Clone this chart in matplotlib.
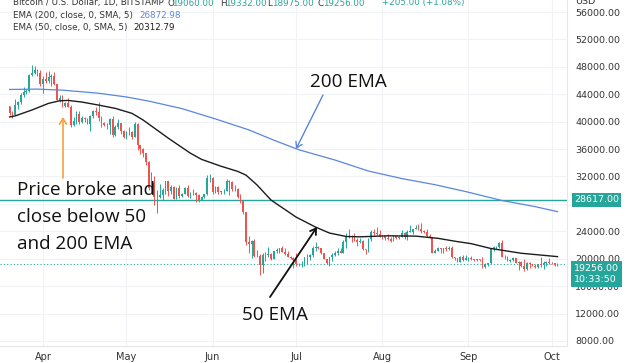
import numpy as np
import pandas as pd
import matplotlib
matplotlib.use("Agg")
import matplotlib.pyplot as plt
import matplotlib.dates as mdates

# ---------------- data (prices in thousands USD) ----------------
start_date = "2022-03-20"
first_open = 42.23
closes = [
    41.26, 41.00, 42.36, 42.89, 43.96, 44.35, 44.50, 46.82, 47.13, 47.47, 47.06, 45.54,
    46.28, 45.87, 46.45, 46.62, 45.56, 43.21, 43.50, 42.29, 42.78, 42.21, 39.52, 40.13, 41.17, 39.94, 40.55,
    40.42, 39.72, 40.83, 41.50, 41.37, 40.53, 39.74, 39.49, 39.47, 40.46, 38.12, 39.24, 39.77, 38.61, 37.71,
    38.47, 38.53, 37.75, 39.70, 36.58, 36.04, 35.50, 34.06, 30.30, 31.02, 28.94, 29.05, 29.28, 30.10, 31.31,
    29.87, 30.43, 28.72, 30.32, 29.20, 29.43, 30.32, 29.10, 29.66, 29.56, 29.27, 28.63, 29.03, 29.47, 31.73, 31.80,
    29.81, 30.45, 29.70, 29.87, 29.92, 31.37, 31.13, 30.21, 30.11, 29.08, 28.36, 26.76, 22.49, 22.21, 22.57,
    20.38, 20.47, 19.02, 20.55, 20.60, 20.71, 19.99, 21.09, 21.23, 21.50, 21.03, 20.74, 20.28, 20.10, 19.79,
    19.27, 19.24, 19.30, 20.23, 20.19, 20.55, 21.64, 21.73, 21.59, 20.86, 19.97, 19.32, 20.21, 20.57, 20.84,
    21.19, 20.78, 22.49, 23.39, 23.23, 23.16, 22.71, 22.47, 22.61, 21.36, 21.24, 22.93, 23.84, 23.80, 23.66, 23.34,
    23.31, 22.98, 22.85, 22.63, 23.29, 22.96, 23.18, 23.81, 23.16, 23.95, 23.96, 24.40, 24.44, 24.31, 24.09,
    23.85, 23.34, 23.19, 20.83, 21.14, 21.52, 21.40, 21.53, 21.37, 21.56, 20.24, 20.04, 19.56, 20.29, 19.81, 20.05,
    20.13, 19.95, 19.83, 19.99, 19.81, 18.84, 19.29, 19.33, 21.38, 21.68, 21.77, 22.37, 20.30, 20.24, 19.70,
    19.77, 20.13, 19.42, 19.54, 18.89, 18.55, 19.41, 19.30, 18.94, 18.80, 19.22, 19.11, 19.43, 19.57, 19.43,
    19.31, 19.05, 19.256,
]
highs = [
    42.3, 41.5, 43.3, 43.0, 44.2, 45.1, 44.8, 46.9, 48.2, 48.1, 47.7, 47.6,
    46.7, 47.2, 47.4, 46.9, 47.2, 45.5, 43.9, 43.9, 42.8, 43.4, 42.4, 40.7, 41.5, 41.5, 40.8,
    40.7, 40.6, 41.0, 41.7, 42.2, 42.9, 40.8, 39.9, 39.8, 40.6, 40.8, 39.5, 40.4, 39.4, 38.8,
    38.7, 39.2, 38.6, 40.0, 39.8, 36.6, 36.1, 35.5, 34.3, 32.6, 32.1, 30.0, 30.9, 30.3, 31.4,
    31.3, 30.8, 30.6, 30.5, 30.7, 29.6, 30.4, 30.7, 29.8, 30.2, 29.8, 29.4, 29.2, 29.5, 32.2, 32.4,
    31.9, 30.6, 30.6, 29.9, 30.2, 31.7, 31.5, 31.3, 30.7, 30.3, 29.4, 28.5, 26.8, 23.3, 22.7,
    22.9, 21.3, 20.7, 20.8, 21.0, 21.7, 20.9, 21.2, 21.5, 21.6, 21.8, 21.5, 21.2, 20.4, 20.2,
    20.9, 19.4, 19.6, 20.3, 20.7, 20.7, 21.8, 22.4, 21.9, 21.6, 20.9, 20.0, 20.3, 20.9, 21.2,
    21.6, 21.6, 22.7, 23.8, 24.3, 23.4, 23.8, 23.0, 23.0, 22.7, 21.4, 23.1, 24.2, 24.4, 24.6, 24.2,
    23.5, 23.4, 23.6, 23.2, 23.5, 23.3, 23.3, 24.2, 23.9, 24.2, 24.9, 24.4, 24.9, 25.0, 25.2,
    24.2, 24.4, 23.6, 23.2, 21.4, 21.7, 21.5, 21.6, 21.8, 21.8, 21.8, 20.3, 20.1, 20.4, 20.6, 20.5,
    20.2, 20.4, 20.0, 20.0, 20.0, 20.2, 19.4, 19.4, 21.5, 21.8, 21.8, 22.5, 22.8, 20.5, 20.4,
    19.9, 20.2, 20.1, 19.7, 19.6, 19.9, 19.5, 19.5, 19.3, 19.2, 19.3, 20.3, 19.7, 19.6, 20.1,
    19.5, 19.4, 19.332,
]
lows = [
    40.9, 40.5, 40.9, 41.9, 42.6, 43.6, 44.1, 44.4, 46.7, 46.9, 46.6, 45.2,
    44.2, 45.7, 45.6, 45.2, 45.4, 43.1, 42.8, 42.1, 42.1, 42.1, 39.2, 39.3, 39.6, 39.6, 39.8,
    40.0, 39.6, 38.6, 40.6, 40.9, 40.1, 39.2, 39.4, 39.0, 38.2, 37.7, 37.9, 38.9, 38.2, 37.6,
    37.4, 38.1, 37.5, 37.7, 35.9, 35.3, 34.8, 33.7, 30.1, 29.8, 27.8, 26.7, 28.8, 28.6, 29.5,
    29.1, 29.5, 28.7, 28.7, 28.8, 29.0, 29.4, 29.0, 28.8, 29.3, 28.3, 28.3, 28.5, 28.8, 29.3, 31.2,
    29.4, 29.6, 29.5, 29.5, 29.5, 29.9, 29.3, 29.9, 29.9, 28.9, 28.2, 26.6, 22.0, 20.9, 20.1,
    20.2, 20.2, 17.6, 17.9, 19.6, 20.3, 19.8, 19.9, 20.8, 20.9, 21.0, 20.5, 20.2, 19.9, 18.6,
    18.97, 18.9, 18.8, 19.0, 19.3, 19.8, 20.3, 21.2, 21.4, 20.7, 19.9, 19.2, 18.9, 19.6, 20.4,
    20.5, 20.8, 20.8, 21.6, 23.0, 22.4, 22.6, 21.9, 22.3, 21.3, 20.7, 21.0, 22.6, 23.5, 23.5, 23.2,
    22.9, 22.7, 22.7, 22.4, 22.6, 22.9, 22.9, 23.2, 22.9, 22.7, 23.9, 23.6, 24.3, 24.2, 23.8,
    23.7, 23.2, 23.1, 20.8, 20.8, 21.1, 20.9, 20.9, 21.1, 21.3, 20.1, 19.8, 19.5, 19.6, 19.6, 19.9,
    19.6, 19.8, 19.7, 19.6, 19.7, 18.7, 18.6, 19.0, 19.3, 21.1, 21.4, 21.6, 20.2, 19.9, 19.6,
    19.5, 19.7, 19.4, 18.3, 18.8, 18.2, 18.4, 18.6, 18.9, 18.6, 18.7, 18.8, 18.5, 18.9, 19.2,
    19.2, 18.9, 18.975,
]

ema200_dates = ["2022-03-20", "2022-03-30", "2022-04-08", "2022-04-21", "2022-05-01", "2022-05-09",
                "2022-05-21", "2022-06-02", "2022-06-14", "2022-06-23", "2022-07-02", "2022-07-15",
                "2022-07-27", "2022-08-08", "2022-08-20", "2022-08-31", "2022-09-13", "2022-09-25",
                "2022-10-03"]
ema200_vals = [44.7, 44.75, 44.6, 44.15, 43.6, 43.0, 41.9, 40.4, 38.8, 37.3, 35.9, 34.4, 32.8, 31.7,
               30.8, 29.8, 28.5, 27.6, 26.87]

ema50_dates = ["2022-03-20", "2022-03-22", "2022-03-28", "2022-04-03", "2022-04-07", "2022-04-10",
               "2022-04-15", "2022-04-21", "2022-04-27", "2022-05-03", "2022-05-07", "2022-05-12",
               "2022-05-16", "2022-05-20", "2022-05-24", "2022-05-28", "2022-06-04", "2022-06-10",
               "2022-06-13", "2022-06-17", "2022-06-22", "2022-07-01", "2022-07-08", "2022-07-13",
               "2022-07-19", "2022-07-24", "2022-08-03", "2022-08-13", "2022-08-21", "2022-08-28",
               "2022-09-02", "2022-09-09", "2022-09-20", "2022-10-03"]
ema50_vals = [40.69, 40.84, 41.7, 42.67, 43.05, 43.1, 42.86, 42.42, 41.94, 41.21, 40.24, 38.78,
              37.61, 36.5, 35.4, 34.5, 33.5, 32.75, 32.2, 30.75, 28.56, 26.08, 24.62, 23.75,
              23.25, 23.2, 23.35, 23.3, 22.98, 22.5, 22.2, 21.5, 20.8, 20.31]

hline_level = 28617.0
last_price = 19256.0
y_ticks = list(range(8000, 56001, 4000))
month_ticks = ["2022-04-01", "2022-05-01", "2022-06-01", "2022-07-01", "2022-08-01", "2022-09-01", "2022-10-01"]
month_labels = ["Apr", "May", "Jun", "Jul", "Aug", "Sep", "Oct"]

# ---------------- figure ----------------
W, H = 640, 363
fig = plt.figure(figsize=(W / 100, H / 100), dpi=100)
fig.patch.set_facecolor("white")

def P(x, y):
    return (x / W, 1 - y / H)

ax_left, ax_right, ax_top, ax_bot = 0, 567, 0, 346
ax = fig.add_axes([ax_left / W, 1 - ax_bot / H, (ax_right - ax_left) / W, (ax_bot - ax_top) / H])

dates = pd.date_range(start_date, periods=len(closes), freq="D")
c = np.array(closes) * 1000
h = np.array(highs) * 1000
l = np.array(lows) * 1000
o = np.concatenate([[first_open * 1000], c[:-1]])
x = mdates.date2num(dates)
up = c >= o
col = np.where(up, "#26a69a", "#ef5350")

ax.vlines(x, np.minimum(l, np.minimum(o, c)), np.maximum(h, np.maximum(o, c)), colors=col, linewidth=0.7, zorder=3)
body = np.maximum(np.abs(c - o), 40)
ax.bar(x, body, bottom=np.minimum(o, c), width=0.62, color=col, linewidth=0, zorder=3)

ax.plot(mdates.date2num(pd.to_datetime(ema200_dates)), np.array(ema200_vals) * 1000,
        color="#5a86dc", lw=0.9, zorder=4, solid_joinstyle="round")
ax.plot(mdates.date2num(pd.to_datetime(ema50_dates)), np.array(ema50_vals) * 1000,
        color="#1c1c1c", lw=1.0, zorder=4, solid_joinstyle="round")

ax.axhline(hline_level, color="#26a69a", lw=1.0, zorder=2)
ax.axhline(last_price, color="#26a69a", lw=0.8, ls=(0, (1, 2)), zorder=2)

apr1 = mdates.date2num(pd.Timestamp("2022-04-01"))
pxday = 2.781
ax.set_xlim(apr1 - 43 / pxday, apr1 + (567 - 43) / pxday)
ax.set_ylim(7270, 57751)

ax.set_yticks(y_ticks)
ax.yaxis.tick_right()
ax.set_yticklabels([f"{v:.2f}" for v in y_ticks])
ax.set_xticks(mdates.date2num(pd.to_datetime(month_ticks)))
ax.set_xticklabels(month_labels)
ax.tick_params(axis="y", length=0, pad=6, labelsize=6.8, labelcolor="#333333")
ax.tick_params(axis="x", length=0, pad=4, labelsize=7, labelcolor="#333333")
ax.grid(True, color="#f0f2f6", lw=0.8)
ax.set_axisbelow(True)
for s in ["top", "left"]:
    ax.spines[s].set_visible(False)
for s in ["right", "bottom"]:
    ax.spines[s].set_color("#e4e6ea")
    ax.spines[s].set_linewidth(0.8)

# price label boxes on the right scale
ax.text(1.0 + 7 / 567, hline_level, "28617.00", transform=ax.get_yaxis_transform(), ha="left", va="center",
        fontsize=6.8, color="white", zorder=10, clip_on=False,
        bbox=dict(boxstyle="square,pad=0.25", fc="#26a69a", ec="none"))
ax.text(1.0 + 7 / 567, last_price, "19256.00\n10:33:50", transform=ax.get_yaxis_transform(), ha="left", va="top",
        fontsize=6.8, color="white", zorder=10, clip_on=False, linespacing=1.3,
        bbox=dict(boxstyle="square,pad=0.3", fc="#26a69a", ec="none"))
fig.text(*P(575, 2), "USD", fontsize=6.8, color="#333333", ha="left", va="center")

# top legend
fs = 6.3
dark = "#333333"
teal = "#26a69a"
fig.text(*P(13, 3), "Bitcoin / U.S. Dollar, 1D, BITSTAMP", fontsize=fs, color=dark, va="center")
for xx, lab, val in [(167, "O", "19060.00"), (220, "H", "19332.00"), (267, "L", "18975.00"), (318, "C", "19256.00")]:
    fig.text(*P(xx, 3), lab, fontsize=fs, color=dark, va="center")
    fig.text(*P(xx + 5.5, 3), val, fontsize=fs, color=teal, va="center")
fig.text(*P(382, 3), "+205.00 (+1.08%)", fontsize=fs, color=teal, va="center")
fig.text(*P(13, 15.7), "EMA (200, close, 0, SMA, 5)", fontsize=fs, color=dark, va="center")
fig.text(*P(139, 15.7), "26872.98", fontsize=fs, color="#5a86dc", va="center")
fig.text(*P(13, 27.7), "EMA (50, close, 0, SMA, 5)", fontsize=fs, color=dark, va="center")
fig.text(*P(133, 27.7), "20312.79", fontsize=fs, color="#1c1c1c", va="center")

# annotations
afont = dict(family="Open Sans", fontsize=13.6, color="#111111", fontweight="medium")
fig.text(*P(17, 190), "Price broke and", va="center", ha="left", **afont)
fig.text(*P(17, 217), "close below 50", va="center", ha="left", **afont)
fig.text(*P(17, 244), "and 200 EMA", va="center", ha="left", **afont)
fig.text(*P(310, 82), "200 EMA", va="center", ha="left", **afont)
fig.text(*P(242, 315), "50 EMA", va="center", ha="left", **afont)

def arrow(x0, y0, x1, y1, color, lw):
    fig.add_artist(matplotlib.patches.FancyArrowPatch(P(x0, y0), P(x1, y1), transform=fig.transFigure,
                   arrowstyle="->,head_length=4,head_width=2.5", color=color, lw=lw,
                   shrinkA=0, shrinkB=0, zorder=20))

arrow(63, 178, 63, 117, "#f5a33a", 1.2)
arrow(323, 95, 296, 149, "#5a86dc", 1.0)
arrow(270, 297, 317, 227, "#111111", 1.3)

fig.savefig("out.png", dpi=100, facecolor="white")
